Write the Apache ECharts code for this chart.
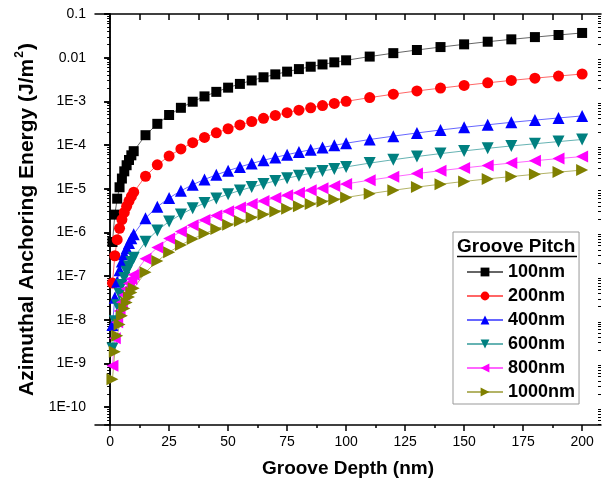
<!DOCTYPE html>
<html>
<head>
<meta charset="utf-8">
<script src="https://cdn.jsdelivr.net/npm/echarts@6/dist/echarts.min.js"></script>
<style>
html,body{margin:0;padding:0;background:#fff;}
#chart{width:605px;height:489px;}
</style>
</head>
<body>
<div id="chart"></div>
<script>
// Groove depth (nm)
const depth = [1,2,3,4,5,6,7,8,9,10,15,20,25,30,35,40,45,50,55,60,65,70,75,80,85,90,95,100,110,120,130,140,150,160,170,180,190,200];

const seriesNames = ['100nm','200nm','400nm','600nm','800nm','1000nm'];

const pitch100 = [6.03e-7,2.55e-6,5.92e-6,1.08e-5,1.71e-5,2.50e-5,3.45e-5,4.55e-5,5.82e-5,7.24e-5,1.68e-4,3.06e-4,4.87e-4,7.12e-4,9.81e-4,1.30e-3,1.65e-3,2.06e-3,2.51e-3,3.01e-3,3.56e-3,4.15e-3,4.79e-3,5.48e-3,6.21e-3,7.00e-3,7.83e-3,8.71e-3,0.0106,0.0127,0.0150,0.0175,0.0202,0.0232,0.0263,0.0296,0.0331,0.0368];
const pitch200 = [6.92e-8,2.92e-7,6.80e-7,1.24e-6,1.97e-6,2.87e-6,3.96e-6,5.23e-6,6.68e-6,8.32e-6,1.93e-5,3.52e-5,5.59e-5,8.17e-5,1.13e-4,1.49e-4,1.90e-4,2.36e-4,2.88e-4,3.46e-4,4.08e-4,4.76e-4,5.50e-4,6.29e-4,7.13e-4,8.03e-4,8.99e-4,1.00e-3,1.22e-3,1.46e-3,1.73e-3,2.01e-3,2.32e-3,2.66e-3,3.02e-3,3.40e-3,3.80e-3,4.23e-3];
const pitch400 = [7.59e-9,3.21e-8,7.45e-8,1.36e-7,2.16e-7,3.15e-7,4.34e-7,5.73e-7,7.33e-7,9.12e-7,2.12e-6,3.86e-6,6.13e-6,8.96e-6,1.24e-5,1.63e-5,2.08e-5,2.59e-5,3.16e-5,3.79e-5,4.48e-5,5.22e-5,6.03e-5,6.89e-5,7.82e-5,8.81e-5,9.86e-5,1.10e-4,1.34e-4,1.60e-4,1.89e-4,2.21e-4,2.55e-4,2.91e-4,3.31e-4,3.72e-4,4.17e-4,4.64e-4];
const pitch600 = [2.19e-9,9.25e-9,2.15e-8,3.91e-8,6.22e-8,9.09e-8,1.25e-7,1.65e-7,2.11e-7,2.63e-7,6.11e-7,1.11e-6,1.77e-6,2.58e-6,3.56e-6,4.70e-6,6.01e-6,7.48e-6,9.12e-6,1.09e-5,1.29e-5,1.51e-5,1.74e-5,1.99e-5,2.26e-5,2.54e-5,2.84e-5,3.16e-5,3.86e-5,4.62e-5,5.46e-5,6.37e-5,7.35e-5,8.41e-5,9.54e-5,1.07e-4,1.20e-4,1.34e-4];
const pitch800 = [8.91e-10,3.77e-9,8.76e-9,1.59e-8,2.53e-8,3.70e-8,5.10e-8,6.74e-8,8.61e-8,1.07e-7,2.49e-7,4.53e-7,7.21e-7,1.05e-6,1.45e-6,1.92e-6,2.45e-6,3.05e-6,3.72e-6,4.45e-6,5.26e-6,6.13e-6,7.08e-6,8.10e-6,9.19e-6,1.03e-5,1.16e-5,1.29e-5,1.57e-5,1.88e-5,2.22e-5,2.59e-5,2.99e-5,3.42e-5,3.88e-5,4.38e-5,4.90e-5,5.45e-5];
const pitch1000 = [4.37e-10,1.85e-9,4.29e-9,7.80e-9,1.24e-8,1.81e-8,2.50e-8,3.30e-8,4.21e-8,5.25e-8,1.22e-7,2.22e-7,3.53e-7,5.16e-7,7.11e-7,9.38e-7,1.20e-6,1.49e-6,1.82e-6,2.18e-6,2.58e-6,3.00e-6,3.47e-6,3.97e-6,4.50e-6,5.07e-6,5.67e-6,6.31e-6,7.69e-6,9.22e-6,1.09e-5,1.27e-5,1.47e-5,1.68e-5,1.90e-5,2.14e-5,2.40e-5,2.67e-5];

// Axis ticks / labels
const xMajorTicks = [0,25,50,75,100,125,150,175,200];
const xMinorTicks = [12.5,37.5,62.5,87.5,112.5,137.5,162.5,187.5];
const xTopTicks = [0,12.5,25,37.5,50,62.5,75,87.5,100,112.5,125,137.5,150,162.5,175,187.5,200];
const yTickValues = [1e-10,1e-9,1e-8,1e-7,1e-6,1e-5,1e-4,1e-3,1e-2,1e-1];
const yTickLabels = ['1E-10','1E-9','1E-8','1E-7','1E-6','1E-5','1E-4','1E-3','0.01','0.1'];
const yMinorTicks = [];
for (let e = -11; e <= -2; e++) for (let m = 2; m <= 9; m++) yMinorTicks.push(m * Math.pow(10, e));

const FONT = '"Liberation Sans", Arial, Helvetica, sans-serif';
const colors = ['#000000','#ff0000','#0000ff','#008080','#ff00ff','#808000'];
const symbols = ['rect','circle','triangle','triangle','triangle','triangle'];
const rotates = [0,0,0,180,90,-90];
const sizes = [10,11,12,12,12,12];
const values = [pitch100,pitch200,pitch400,pitch600,pitch800,pitch1000];

const X_MIN = -6.4, X_MAX = 208;
const Y_MIN = 3.9e-11, Y_MAX = 0.1;

function yLabel(v) {
  const e = Math.round(Math.log10(v));
  for (let i = 0; i < yTickValues.length; i++) {
    if (Math.round(Math.log10(yTickValues[i])) === e) return yTickLabels[i];
  }
  return '';
}

const chart = echarts.init(document.getElementById('chart'), null, {renderer: 'canvas'});

const series = seriesNames.map((n, i) => ({
  name: n,
  type: 'line',
  xAxisIndex: 0,
  yAxisIndex: 0,
  data: depth.map((d, j) => [d, values[i][j]]),
  symbol: symbols[i],
  symbolRotate: rotates[i],
  symbolSize: sizes[i],
  showAllSymbol: true,
  color: colors[i],
  itemStyle: {color: colors[i]},
  lineStyle: {color: colors[i], width: 1, opacity: 0.6},
  animation: false
}));

const option = {
  animation: false,
  backgroundColor: '#fff',
  textStyle: {fontFamily: FONT},
  grid: {left: 95, right: 4, top: 14, bottom: 64, containLabel: false},
  xAxis: [
    {
      type: 'value', position: 'bottom', min: X_MIN, max: X_MAX,
      axisLine: {show: true, lineStyle: {color: '#000', width: 1.5}},
      axisTick: {show: true, inside: false, length: 6, customValues: xMajorTicks, lineStyle: {color: '#000', width: 1.5}},
      axisLabel: {show: true, customValues: xMajorTicks, fontSize: 14, color: '#000', margin: 10, fontFamily: FONT},
      splitLine: {show: false},
      name: 'Groove Depth (nm)', nameLocation: 'middle', nameGap: 34,
      nameTextStyle: {fontSize: 19, fontWeight: 'bold', color: '#000', fontFamily: FONT}
    },
    {
      type: 'value', position: 'bottom', min: X_MIN, max: X_MAX,
      axisLine: {show: false},
      axisTick: {show: true, inside: false, length: 3, customValues: xMinorTicks, lineStyle: {color: '#000', width: 1.5}},
      axisLabel: {show: false},
      splitLine: {show: false}
    },
    {
      type: 'value', position: 'top', min: X_MIN, max: X_MAX,
      axisLine: {show: true, lineStyle: {color: '#000', width: 1.5}},
      axisTick: {show: true, inside: true, length: 6, customValues: xTopTicks, lineStyle: {color: '#000', width: 1.5}},
      axisLabel: {show: false},
      splitLine: {show: false}
    }
  ],
  yAxis: [
    {
      type: 'log', logBase: 10, position: 'left', min: Y_MIN, max: Y_MAX,
      axisLine: {show: true, lineStyle: {color: '#000', width: 1.5}},
      axisTick: {show: true, inside: false, length: 6, lineStyle: {color: '#000', width: 1.5}},
      axisLabel: {show: true, fontSize: 14, color: '#000', margin: 9, showMinLabel: false, formatter: yLabel, fontFamily: FONT},
      splitLine: {show: false},
      name: '{a|Azimuthal Anchoring Energy (J/m}{s|2}{a|)}',
      nameLocation: 'middle', nameGap: 57,
      nameTextStyle: {
        color: '#000',
        rich: {
          a: {fontSize: 21, fontWeight: 'bold', color: '#000', fontFamily: FONT, lineHeight: 24, verticalAlign: 'bottom'},
          s: {fontSize: 12, fontWeight: 'bold', color: '#000', fontFamily: FONT, lineHeight: 24, verticalAlign: 'top', padding: [0, 1, 12, 1]}
        }
      }
    },
    {
      type: 'log', logBase: 10, position: 'left', min: Y_MIN, max: Y_MAX,
      axisLine: {show: false},
      axisTick: {show: true, inside: false, length: 3, customValues: yMinorTicks, lineStyle: {color: '#000', width: 1}},
      axisLabel: {show: false},
      splitLine: {show: false}
    },
    {
      type: 'log', logBase: 10, position: 'right', min: Y_MIN, max: Y_MAX,
      axisLine: {show: true, lineStyle: {color: '#000', width: 1.5}},
      axisTick: {show: true, inside: true, length: 6, lineStyle: {color: '#000', width: 1.5}},
      axisLabel: {show: false},
      splitLine: {show: false}
    },
    {
      type: 'log', logBase: 10, position: 'right', min: Y_MIN, max: Y_MAX,
      axisLine: {show: false},
      axisTick: {show: true, inside: true, length: 3, customValues: yMinorTicks, lineStyle: {color: '#000', width: 1}},
      axisLabel: {show: false},
      splitLine: {show: false}
    }
  ],
  legend: {
    show: true,
    orient: 'vertical',
    left: 453, top: 232,
    padding: [31, 4, 3, 13],
    itemWidth: 36, itemHeight: 11, itemGap: 6,
    borderColor: '#999', borderWidth: 1,
    backgroundColor: '#fff',
    textStyle: {fontSize: 18, fontWeight: 'bold', color: '#000', fontFamily: FONT},
    data: seriesNames
  },
  graphic: [
    {type: 'text', left: 457, top: 237, z: 100,
     style: {text: 'Groove Pitch', font: 'bold 19px ' + FONT, fill: '#000'}},
    {type: 'line', z: 100, shape: {x1: 457, y1: 256.5, x2: 577, y2: 256.5}, style: {stroke: '#000', lineWidth: 1.5}}
  ],
  series: series
};

chart.setOption(option);
</script>
</body>
</html>
